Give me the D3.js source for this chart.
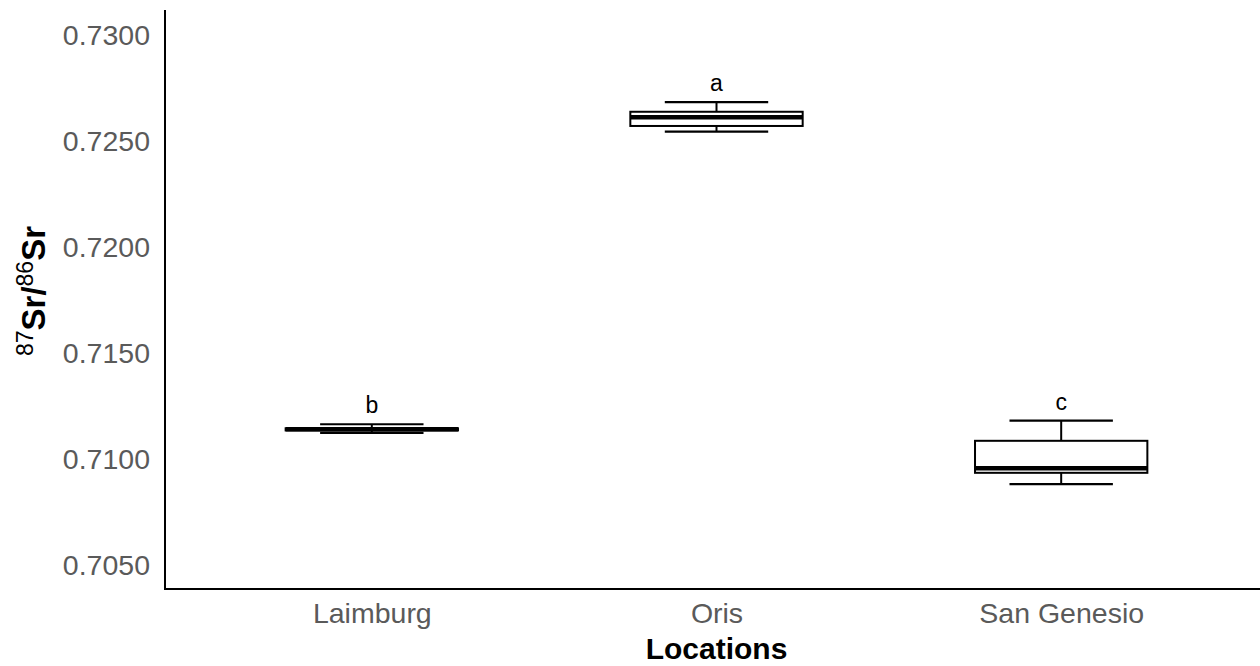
<!DOCTYPE html>
<html>
<head>
<meta charset="utf-8">
<script src="https://cdn.jsdelivr.net/npm/d3@7"></script>
<style>
  body { margin: 0; background: #fff; }
  .main { width: 1260px; height: 666px; }
</style>
</head>
<body>
<div class="main"></div>
<script>
// data
const locations = ["Laimburg", "Oris", "San Genesio"]
const lowerWhisker = [0.71123, 0.72544, 0.70882]
const q1 = [0.71135, 0.72571, 0.70935]
const median = [0.71140, 0.72612, 0.70956]
const q3 = [0.71145, 0.72638, 0.71086]
const upperWhisker = [0.71164, 0.72683, 0.71181]
const letters = ["b", "a", "c"]
const yTicks = [0.7050, 0.7100, 0.7150, 0.7200, 0.7250, 0.7300]

const data = locations.map((d, i) => ({
    loc: d, lo: lowerWhisker[i], q1: q1[i], med: median[i], q3: q3[i], hi: upperWhisker[i], letter: letters[i]
}))

const svg = d3.select(".main")
    .append("svg")
    .attr("width", 1260)
    .attr("height", 666)
    .style("font-family", "Liberation Sans, Arial, sans-serif")

const x = d3.scalePoint()
    .domain(locations)
    .range([165, 1268])
    .padding(0.6)

const y = d3.scaleLinear()
    .domain([0.70387, 0.73118])
    .range([589, 10])

const step = x.step()
const boxW = step * 0.5
const capW = step * 0.3

// axes (no tick marks)
const yAxis = svg.append("g")
    .attr("transform", "translate(165,0)")
    .call(d3.axisLeft(y).tickValues(yTicks).tickFormat(d3.format(".4f")).tickSize(0).tickPadding(15))
yAxis.select(".domain").attr("stroke", "#000").attr("stroke-width", 2)
    .attr("d", "M0,10V589")
yAxis.selectAll("text").attr("font-size", 28.5).attr("fill", "#5a5a5a").style("font-family", "Liberation Sans, Arial, sans-serif")

const xAxis = svg.append("g")
    .attr("transform", "translate(0,589)")
    .call(d3.axisBottom(x).tickSize(0).tickPadding(14))
xAxis.select(".domain").attr("stroke", "#000").attr("stroke-width", 2)
    .attr("d", "M164,0H1260")
xAxis.selectAll("text").attr("font-size", 28.5).attr("fill", "#5a5a5a").style("font-family", "Liberation Sans, Arial, sans-serif")

// boxes
const g = svg.selectAll(".box")
    .data(data)
    .join("g")
    .attr("class", "box")

g.append("line") // upper whisker
    .attr("x1", d => x(d.loc)).attr("x2", d => x(d.loc))
    .attr("y1", d => y(d.hi)).attr("y2", d => y(d.q3))
    .attr("stroke", "#000").attr("stroke-width", 2)
g.append("line") // lower whisker
    .attr("x1", d => x(d.loc)).attr("x2", d => x(d.loc))
    .attr("y1", d => y(d.lo)).attr("y2", d => y(d.q1))
    .attr("stroke", "#000").attr("stroke-width", 2)
g.append("line")
    .attr("x1", d => x(d.loc) - capW / 2).attr("x2", d => x(d.loc) + capW / 2)
    .attr("y1", d => y(d.hi)).attr("y2", d => y(d.hi))
    .attr("stroke", "#000").attr("stroke-width", 2.2)
g.append("line")
    .attr("x1", d => x(d.loc) - capW / 2).attr("x2", d => x(d.loc) + capW / 2)
    .attr("y1", d => y(d.lo)).attr("y2", d => y(d.lo))
    .attr("stroke", "#000").attr("stroke-width", 2.2)

g.append("rect")
    .attr("x", d => x(d.loc) - boxW / 2)
    .attr("width", boxW)
    .attr("y", d => y(d.q3))
    .attr("height", d => y(d.q1) - y(d.q3))
    .attr("fill", "#fff")
    .attr("stroke", "#000")
    .attr("stroke-width", 2)

g.append("line") // median
    .attr("x1", d => x(d.loc) - boxW / 2).attr("x2", d => x(d.loc) + boxW / 2)
    .attr("y1", d => y(d.med)).attr("y2", d => y(d.med))
    .attr("stroke", "#000").attr("stroke-width", 4.5)

g.append("text")
    .attr("x", d => x(d.loc))
    .attr("y", d => y(d.hi) - 11)
    .attr("text-anchor", "middle")
    .attr("font-size", 23)
    .attr("fill", "#000")
    .text(d => d.letter)

// axis titles
svg.append("text")
    .attr("x", x("Oris"))
    .attr("y", 659)
    .attr("text-anchor", "middle")
    .attr("font-size", 30)
    .attr("font-weight", "bold")
    .attr("fill", "#000")
    .text("Locations")

const yt = svg.append("text")
    .attr("transform", "translate(45,291) rotate(-90)")
    .attr("text-anchor", "middle")
    .attr("fill", "#000")
yt.append("tspan").attr("font-size", 23).attr("dy", -12).text("87")
yt.append("tspan").attr("font-size", 33).attr("font-weight", "bold").attr("dy", 12).text("Sr/")
yt.append("tspan").attr("font-size", 23).attr("dy", -12).text("86")
yt.append("tspan").attr("font-size", 33).attr("font-weight", "bold").attr("dy", 12).text("Sr")
</script>
</body>
</html>
